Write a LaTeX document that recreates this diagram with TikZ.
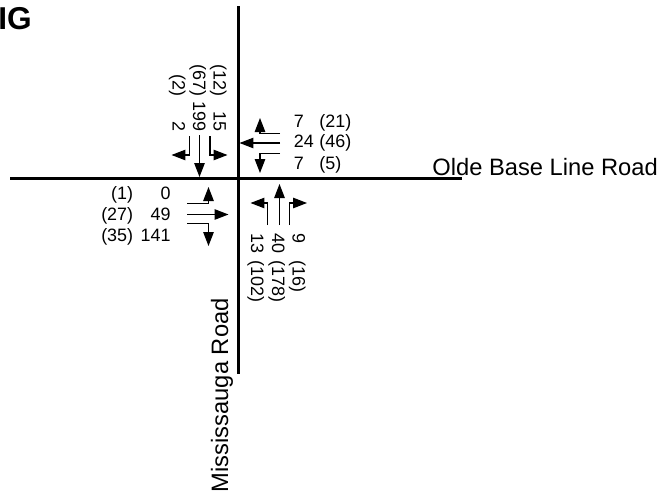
\documentclass[tikz,border=0pt]{standalone}
\usepackage{fontspec}
\setmainfont{Liberation Sans}
\usetikzlibrary{arrows.meta}

\begin{document}
\begin{tikzpicture}[x=0.02cm,y=-0.02cm,
  road/.style={line width=2.2pt},
  move/.style={line width=0.7pt,-{Triangle[length=2.8mm,width=2.1mm]}},
  vol/.style={inner sep=0pt,font=\fontsize{10.2}{12}\selectfont},
  roadlabel/.style={inner sep=0pt,font=\fontsize{13.5}{16}\selectfont}]
\useasboundingbox (0,0) rectangle (663,494);

\path (32,29.5) node[inner sep=0pt,anchor=base east,font=\fontsize{18}{21}\bfseries] (T) {IG};

\draw[road] (238.5,6) -- (238.5,374);
\draw[road] (10,178.5) -- (462,178.5);

\path (432,175.5) node[roadlabel,anchor=base west] (R1) {Olde Base Line Road};
\path (228,492.5) node[roadlabel,rotate=90,anchor=base west] (R2) {Mississauga Road};

\draw[move] (189.5,136) |- (171.5,155);
\draw[move] (199.5,135) -- (199.5,177);
\draw[move] (210,136) |- (227.5,155);

\draw[move] (280,133.5) -| (260,118);
\draw[move] (280,143) -- (239.5,143);
\draw[move] (280,153.5) -| (260,173);

\draw[move] (267.5,225) |- (250.5,203);
\draw[move] (279.5,225) -- (279.5,184);
\draw[move] (289.5,225) |- (307,203);

\draw[move] (187,203.5) -| (208.5,187);
\draw[move] (187,214.5) -- (228.5,214.5);
\draw[move] (187,223.5) -| (208.5,246);

\path (172.5,132) node[vol,rotate=-90,anchor=base east] (S1) {2};
\path (193,132)   node[vol,rotate=-90,anchor=base east] (S2) {199};
\path (213.5,132) node[vol,rotate=-90,anchor=base east] (S3) {15};
\path (172.5,97)  node[vol,rotate=-90,anchor=base east] (S4) {(2)};
\path (193,97)    node[vol,rotate=-90,anchor=base east] (S5) {(67)};
\path (213.5,97)  node[vol,rotate=-90,anchor=base east] (S6) {(12)};

\path (293.5,127.5) node[vol,anchor=base west] (W1) {7};
\path (293.5,147.5) node[vol,anchor=base west] (W2) {24};
\path (293.5,169)   node[vol,anchor=base west] (W3) {7};
\path (319,127.5)   node[vol,anchor=base west] (W4) {(21)};
\path (319,147.5)   node[vol,anchor=base west] (W5) {(46)};
\path (319,169)     node[vol,anchor=base west] (W6) {(5)};

\path (251,233.5) node[vol,rotate=-90,anchor=base west] (N1) {13};
\path (272,233.5) node[vol,rotate=-90,anchor=base west] (N2) {40};
\path (292.5,233.5) node[vol,rotate=-90,anchor=base west] (N3) {9};
\path (251,260)   node[vol,rotate=-90,anchor=base west] (N4) {(102)};
\path (272,260)   node[vol,rotate=-90,anchor=base west] (N5) {(178)};
\path (292.5,260) node[vol,rotate=-90,anchor=base west] (N6) {(16)};

\path (171,199.5) node[vol,anchor=base east] (E1) {0};
\path (171,220)   node[vol,anchor=base east] (E2) {49};
\path (171,241)   node[vol,anchor=base east] (E3) {141};
\path (133.5,199.5) node[vol,anchor=base east] (E4) {(1)};
\path (133.5,220)   node[vol,anchor=base east] (E5) {(27)};
\path (133.5,241)   node[vol,anchor=base east] (E6) {(35)};
\end{tikzpicture}
\end{document}
